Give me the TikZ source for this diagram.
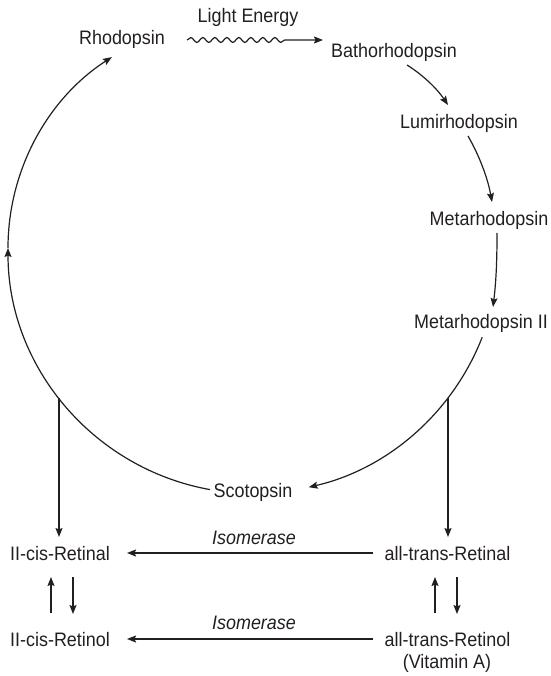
\documentclass[tikz,border=0pt]{standalone}
\usepackage{fontspec}
\setmainfont{Liberation Sans}[FakeStretch=0.92]
\usetikzlibrary{arrows.meta,calc,decorations.pathmorphing}
\definecolor{ink}{RGB}{35,31,32}
\tikzset{
  lbl/.style={anchor=base,inner sep=0pt,text=ink,font=\fontsize{19.5pt}{22pt}\selectfont},
  ilbl/.style={lbl,font=\fontsize{19.5pt}{22pt}\selectfont\itshape},
  arr/.style={draw=ink,line width=1.2pt,-{Stealth[length=9pt,width=7pt,inset=1.5pt]}},
  wavy/.style={arr,decorate,decoration={snake,amplitude=2.4pt,segment length=12pt,post length=34pt}}
}
\begin{document}
\begin{tikzpicture}[x=1pt,y=1pt]
\useasboundingbox (0,0) rectangle (550,-676);
% nodes
\node[lbl] (rho) at (122,-45) {Rhodopsin};
\node[lbl] (light) at (248,-23) {Light Energy};
\node[lbl] (batho) at (394,-58) {Bathorhodopsin};
\node[lbl] (lumi) at (459,-129) {Lumirhodopsin};
\node[lbl] (meta) at (489,-225) {Metarhodopsin};
\node[lbl] (metaII) at (481,-328) {Metarhodopsin II};
\node[lbl] (scot) at (253,-497) {Scotopsin};
\node[lbl] (cisal) at (60,-560) {II-cis-Retinal};
\node[lbl] (transal) at (447.5,-560) {all-trans-Retinal};
\node[ilbl] (iso1) at (254,-544) {Isomerase};
\node[lbl] (cisol) at (60,-646) {II-cis-Retinol};
\node[lbl] (transol) at (447.5,-646) {all-trans-Retinol};
\node[lbl] (vita) at (447,-668) {(Vitamin A)};
\node[ilbl] (iso2) at (254,-629) {Isomerase};
% cycle centres
\coordinate (cyc) at (253.5,-248);
\coordinate (cyc2) at (235.4,-248);
\coordinate (jl) at (59,-397.8);
\coordinate (jr) at (448,-397.8);
% light arrow
\draw[wavy] ($(rho.base east)+(22,5)$) -- ($(batho.base west)+(-8,18)$);
% chain arrows
\draw[arr] ($(batho.base)+(13,-7)$) .. controls +(16.5,-10.4) and +(-10.9,16.2) .. ($(lumi.base)+(-11,24)$);
\draw[arr] ($(lumi.base)+(9,-7)$) .. controls +(11.8,-20.6) and +(-4.2,23.4) .. ($(meta.base)+(3,23)$);
\draw[arr] ($(meta.base)+(8,-8)$) .. controls +(0,-30) and +(3,25) .. ($(metaII.base)+(12,21)$);
% big cycle
\draw[arr] ([shift={(-21.3:245.5pt)}]cyc) arc[start angle=-21.3,end angle=-77,radius=245.5pt];
\draw[arr] ([shift={(-100.2:245.5pt)}]cyc) arc[start angle=-100.2,end angle=-180,radius=245.5pt];
\draw[arr] ([shift={(180:227.4pt)}]cyc2) arc[start angle=180,end angle=122.9,radius=227.4pt];
% verticals
\draw[arr] (jl) -- ($(cisal.base)+(-1,23)$);
\draw[arr] (jr) -- ($(transal.base)+(0.5,23)$);
% isomerase arrows
\draw[arr,line width=1.4pt] ($(transal.base west)+(-11.5,7)$) -- ($(cisal.base east)+(17,7)$);
\draw[arr,line width=1.4pt] ($(transol.base west)+(-11.5,7)$) -- ($(cisol.base east)+(17,7)$);
% up/down pairs
\draw[arr] ($(cisol.base)+(-9,33)$) -- ($(cisal.base)+(-9,-17)$);
\draw[arr] ($(cisal.base)+(13,-17)$) -- ($(cisol.base)+(13,32)$);
\draw[arr] ($(transol.base)+(-12.5,33)$) -- ($(transal.base)+(-12.5,-17)$);
\draw[arr] ($(transal.base)+(9.5,-17)$) -- ($(transol.base)+(9.5,32)$);
\end{tikzpicture}
\end{document}
